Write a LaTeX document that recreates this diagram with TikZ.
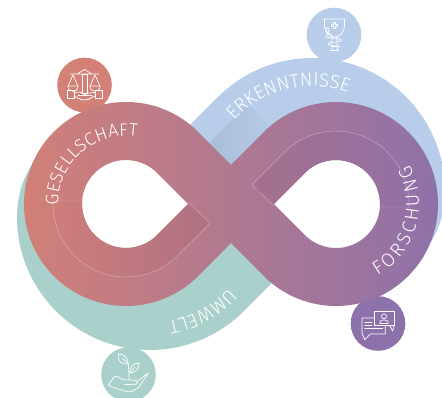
\documentclass[tikz,border=0pt]{standalone}
\usepackage{fontspec}
\newfontfamily\bandfont[UprightFont={* Light}]{Fira Sans}
\usetikzlibrary{decorations.text}
\definecolor{cred}{RGB}{211,128,118}
\definecolor{cmid}{RGB}{184,118,140}
\definecolor{cpur}{RGB}{141,113,170}
\definecolor{cblue}{RGB}{184,205,233}
\definecolor{cblued}{RGB}{170,190,216}
\definecolor{cgreen}{RGB}{170,208,204}
\tikzset{
  badge/.style={circle,minimum size=54.6pt,inner sep=0pt,draw=none},
  ico/.style={draw=white,line width=0.7pt,line join=round,line cap=round},
  foldline/.style={draw=white,draw opacity=0.4,line width=0.45pt},
  bandtext/.style={decorate,decoration={text along path,text color=white,
     text={|\bandfont\fontsize{#1}{#1}\selectfont|\bandstr},text align={fit to path}}}
}
\def\bandshape{(175,258) -- (218,301) arc[start angle=135,end angle=0,radius=133]
   .. controls (445,185) and (438,165) .. (428,152)
   -- (402,163) arc[start angle=-25,end angle=135,radius=73] -- (231,194) -- cycle}
\def\foldshape{(53.06,197) arc[start angle=177.65,end angle=315,radius=73] -- (210,174.8) -- (188.2,196.6)
   -- (188.2,194) -- (157.1,162.9) arc[start angle=315,end angle=176.1,radius=44] -- cycle}
\def\foldedge{(82.1,197) -- (53.06,197) arc[start angle=177.65,end angle=315,radius=73] -- (210,174.8) -- (188.2,196)}
\begin{document}
\begin{tikzpicture}[x=1pt,y=1pt]
\useasboundingbox (0,0) rectangle (442,398);
\clip (0,0) rectangle (442,398);
% badges
\node[badge,fill=cred] (bRed) at (84.5,313) {};
\node[badge,fill=cblue] (bBlue) at (334,363) {};
\node[badge,fill=cpur] (bPur) at (378,74.5) {};
\node[badge,fill=cgreen] (bGreen) at (128.5,23.5) {};
% side bands
\fill[cblue] \bandshape;
\shade[shift={(207,253)},rotate=45,left color=cblued,right color=cblue] (0,0) rectangle (58,-60);
\fill[cgreen,rotate around={180:(231,194)}] \bandshape;
% infinity
\shade[even odd rule,left color=cred,middle color=cmid,right color=cpur]
  (198.1,266.1) -- (231,233) -- (263.9,266.1)
  arc[start angle=135,end angle=-135,radius=102]
  -- (231,155) -- (198.1,121.9)
  arc[start angle=-45,end angle=-315,radius=102] -- cycle
  (188.2,194) -- (157.1,225.1) arc[start angle=45,end angle=315,radius=44] -- cycle
  (273.8,194) -- (304.9,225.1) arc[start angle=135,end angle=-135,radius=44] -- cycle;
% folds
\shade[left color={rgb,255:red,207;green,126;blue,121},right color={rgb,255:red,174;green,113;blue,130}] \foldshape;
\shade[left color={rgb,255:red,166;green,112;blue,140},right color={rgb,255:red,146;green,113;blue,166},rotate around={180:(231,194)}]
  \foldshape;
\draw[foldline] \foldedge;
\draw[foldline,rotate around={180:(231,194)}] \foldedge;
% band labels
\def\bandstr{GESELLSCHAFT}
\path[bandtext=18] (126,194) ++(181:68) arc[start angle=181,end angle=80.5,radius=68];
\def\bandstr{ERKENNTNISSE}
\path[bandtext=19] (312,207) ++(138:105) arc[start angle=138,end angle=70,radius=105];
\def\bandstr{UMWELT}
\path[bandtext=19] (150,181) ++(-42:106) arc[start angle=-42,end angle=-78,radius=106];
\def\bandstr{FORSCHUNG}
\path[bandtext=19] (336,194) ++(-60:83) arc[start angle=-60,end angle=28,radius=83];
% icons, in picture pixels
\begin{scope}[shift={(0,398)},y=-1pt,ico]
 % scales
 \draw (70,74) -- (99,74) (78,73.5) -- (84.5,69.5) -- (91,73.5);
 \draw (82,74) rectangle (87,93) (78,95) -- (92,95);
 \draw (68,86) -- (73,75) -- (78,86) -- (68,86) .. controls (68,93) and (78,93) .. (78,86);
 \draw (90,86) -- (95,75) -- (100,86) -- (90,86) .. controls (90,93) and (100,93) .. (100,86);
 \draw (67,90.5) rectangle (74,98) (95,90.5) rectangle (102,98);
 \draw (74,92.5) -- (80,92) -- (87,95.5) (95,92.5) -- (84,93.5);
 \draw (74,96) -- (82,100) -- (88,99.5) -- (95,96);
 % cup
 \draw (323.5,19) -- (345.5,19) (324.5,19) -- (324.5,26) .. controls (324.5,32) and (329,37) .. (334.5,37) .. controls (340,37) and (344.5,32) .. (344.5,26) -- (344.5,19);
 \draw (333.5,22.5) -- (335.8,22.5) -- (335.8,24.5) -- (337.8,24.5) -- (337.8,26.8) -- (335.8,26.8) -- (335.8,28.8) -- (333.5,28.8) -- (333.5,26.8) -- (331.3,26.8) -- (331.3,24.5) -- (333.5,24.5) -- cycle;
 \draw (332,37) -- (332,46.5) (337,37) -- (337,46.5) (330.5,50.5) -- (339,50.5) (331.5,50.5) -- (332.5,46.5) -- (337,46.5) -- (338,50.5);
 \draw (332,35) .. controls (326,34) and (324,27) .. (327,27.5) .. controls (331,28) and (328,34) .. (326,36) .. controls (324,39) and (342,37) .. (341,40.5) .. controls (340,43) and (328,41) .. (328,44) .. controls (328,47) and (340,45) .. (340,47);
 % chat
 \draw (374.3,311.3) rectangle (394.7,325.3);
 \draw (389.5,325.3) -- (392.7,331) -- (394.7,324);
 \draw (384,316.3) circle[radius=2.5];
 \draw (380,323.5) -- (380,321.5) .. controls (380,319.5) and (388,319.5) .. (388,321.5) -- (388,323.5) -- cycle;
 \draw (374,318) -- (362,318) -- (362,333) -- (364.7,339.7) -- (370.3,334) -- (385.3,334) -- (385.3,326);
 \draw (364.7,322) -- (372,322) (364.7,325.3) -- (372,325.3) (364.7,328.7) -- (382.7,328.7);
 % plant
 \draw (118.3,354) .. controls (117,361) and (122,365) .. (128.3,364) .. controls (128,358) and (124,354) .. (118.3,354) -- cycle;
 \draw (139.3,363) .. controls (133,363) and (129,368) .. (130,373) .. controls (136,373) and (139,368) .. (139.3,363) -- cycle;
 \draw (122,358) -- (128.3,364) -- (129.3,379.7) (130,373) -- (135,367);
 \draw (108.3,384.7) -- (115,376.3) .. controls (118,375) and (120,379.7) .. (123.3,379.7) -- (136,380.3) .. controls (138,381) and (138,384) .. (136,384.2) -- (124,384.7);
 \draw (108.3,384.7) .. controls (112,388) and (122,390) .. (128.3,392) .. controls (134,391) and (137,389) .. (139,387) -- (148.3,373) -- (137.5,381);
\end{scope}
\end{tikzpicture}
\end{document}
